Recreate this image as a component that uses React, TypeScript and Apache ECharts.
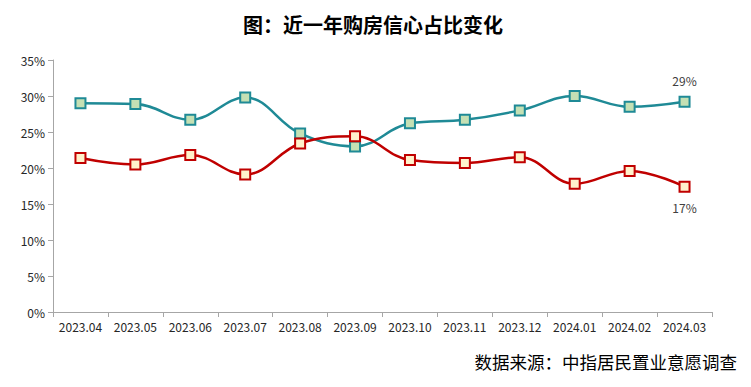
import React, { useEffect, useRef } from "react";
import * as echarts from "echarts";

const categories = ["2023.04", "2023.05", "2023.06", "2023.07", "2023.08", "2023.09", "2023.10", "2023.11", "2023.12", "2024.01", "2024.02", "2024.03"];
const tealValues = [29.0, 28.9, 26.7, 29.8, 24.8, 23.0, 26.2, 26.7, 28.0, 30.0, 28.5, 29.2];
const redValues = [21.4, 20.5, 21.8, 19.1, 23.4, 24.4, 21.1, 20.7, 21.5, 17.8, 19.6, 17.4];
const yTicks = [0, 5, 10, 15, 20, 25, 30, 35];

const FONT = "'Noto Sans CJK SC', 'Noto Sans', sans-serif";

export default function App() {
  const ref = useRef<HTMLDivElement>(null);
  useEffect(() => {
    if (!ref.current) return;
    const chart = echarts.init(ref.current, undefined, { renderer: "svg" });
    const last = categories.length - 1;
    const mkLabel = (pos: string) => ({
      show: true,
      position: pos,
      distance: 9,
      color: "#404040",
      fontSize: 12,
      fontFamily: FONT,
      formatter: (p: any) => (p.dataIndex === last ? Math.round(p.value) + "%" : ""),
    });
    chart.setOption({
      animation: false,
      backgroundColor: "#ffffff",
      textStyle: { fontFamily: FONT },
      title: [
        {
          text: "图：近一年购房信心占比变化",
          left: 368,
          top: 9,
          textAlign: "center",
          textStyle: { fontSize: 20, fontWeight: "bold", color: "#000000", fontFamily: FONT },
        },
      ],
      graphic: [
        {
          type: "text",
          right: 14,
          top: 353,
          style: { text: "数据来源：中指居民置业意愿调查", fontSize: 17.5, fill: "#000000", fontFamily: FONT },
        },
      ],
      grid: { left: 53, right: 39, top: 60, bottom: 75, containLabel: false },
      xAxis: {
        type: "category",
        data: categories,
        boundaryGap: true,
        axisLine: { lineStyle: { color: "#a6a6a6", width: 1 } },
        axisTick: { show: true, alignWithLabel: false, length: 5, lineStyle: { color: "#a6a6a6" } },
        axisLabel: { color: "#262626", fontSize: 12, margin: 8, interval: 0, fontFamily: FONT },
        splitLine: { show: false },
      },
      yAxis: {
        type: "value",
        min: yTicks[0],
        max: yTicks[yTicks.length - 1],
        interval: 5,
        axisLine: { show: true, lineStyle: { color: "#a6a6a6", width: 1 } },
        axisTick: { show: true, length: 5, lineStyle: { color: "#a6a6a6" } },
        axisLabel: { color: "#262626", fontSize: 12, margin: 8, formatter: "{value}%", fontFamily: FONT },
        splitLine: { show: false },
      },
      series: [
        {
          name: "teal",
          type: "line",
          data: tealValues,
          smooth: 0.4,
          symbol: "rect",
          symbolSize: 10,
          lineStyle: { color: "#1f8a96", width: 2.5 },
          itemStyle: { color: "#c5e0b4", borderColor: "#1f8a96", borderWidth: 2 },
          label: mkLabel("top"),
          z: 2,
        },
        {
          name: "red",
          type: "line",
          data: redValues,
          smooth: 0.4,
          symbol: "rect",
          symbolSize: 10,
          lineStyle: { color: "#c00000", width: 2.5 },
          itemStyle: { color: "#fff2cc", borderColor: "#c00000", borderWidth: 2 },
          label: mkLabel("bottom"),
          z: 3,
        },
      ],
    });
    return () => chart.dispose();
  }, []);
  return <div ref={ref} style={{ width: 751, height: 387, margin: -8 }} />;
}
